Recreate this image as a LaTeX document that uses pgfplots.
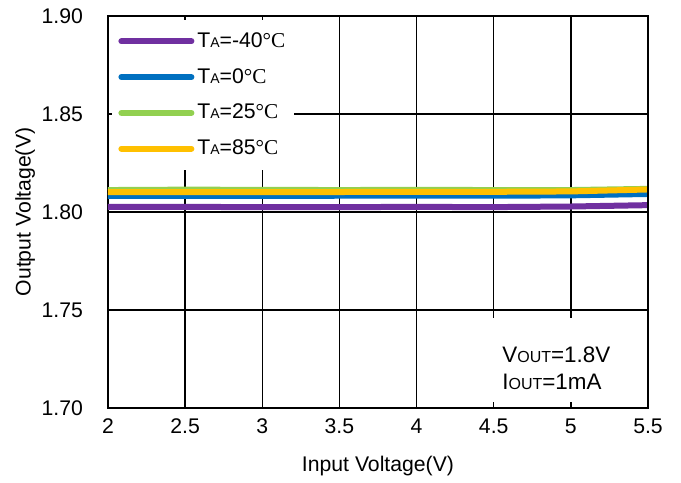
\documentclass[border=0pt]{standalone}
\usepackage{pgfplots}
\pgfplotsset{compat=1.18}
\usepackage{fontspec}
\setmainfont{Liberation Sans}
\newfontfamily\serifdeg{Liberation Serif}
\definecolor{cpurple}{RGB}{112,48,160}
\definecolor{cblue}{RGB}{0,112,192}
\definecolor{cgreen}{RGB}{146,208,80}
\definecolor{corange}{RGB}{255,192,0}
\newcommand{\degC}{{\serifdeg °C}}
\begin{document}
\begin{tikzpicture}
\begin{axis}[
  name=ax,
  scale only axis,
  width=270pt, height=196pt,
  xmin=2, xmax=5.5, ymin=1.70, ymax=1.90,
  xtick={2,2.5,3,3.5,4,4.5,5,5.5},
  ytick={1.70,1.75,1.80,1.85,1.90},
  yticklabel style={/pgf/number format/fixed,/pgf/number format/fixed zerofill,/pgf/number format/precision=2, xshift=-9pt},
  /pgf/number format/assume math mode=true,
  ticklabel style={font=\fontsize{10.6}{12}\selectfont},
  xticklabel style={yshift=-2pt},
  major tick length=0pt,
  grid=major,
  major grid style={black, line width=0.65pt},
  axis line style={black, line width=1.4pt},
  xlabel={Input Voltage(V)},
  ylabel={Output Voltage(V)},
  label style={font=\fontsize{10.6}{12}\selectfont},
  xlabel style={yshift=-4pt},
  ylabel style={yshift=-3.5pt},
  legend cell align=left,
  legend style={at={(rel axis cs:0,1)}, anchor=north west, draw=none, fill=white,
    xshift=2pt, yshift=-2pt, inner xsep=3pt, inner ysep=4pt,
    row sep=5.0pt, font=\fontsize{10.6}{12}\selectfont,
    nodes={inner xsep=1.5pt}},
  legend image code/.code={\draw[#1, line cap=round] (0pt,0pt) -- (35pt,0pt);},
  every axis plot/.append style={line width=3pt},
]
\addplot[cpurple] coordinates {(2,1.8026) (2.5,1.8026) (3,1.8025) (3.5,1.8025) (4,1.8026) (4.5,1.8025) (5,1.8028) (5.5,1.8035)};
\addlegendentry{T{\scriptsize A}=-40\degC}
\addplot[cblue] coordinates {(2,1.8082) (2.5,1.8082) (3,1.8082) (3.5,1.8083) (4,1.8084) (4.5,1.8083) (5,1.8085) (5.5,1.8092)};
\addlegendentry{T{\scriptsize A}=0\degC}
\addplot[cgreen] coordinates {(2,1.8112) (2.5,1.8114) (3,1.8113) (3.5,1.8112) (4,1.8113) (4.5,1.8112) (5,1.8112) (5.5,1.8118)};
\addlegendentry{T{\scriptsize A}=25\degC}
\addplot[corange] coordinates {(2,1.8102) (2.5,1.8102) (3,1.8102) (3.5,1.8102) (4,1.8103) (4.5,1.8103) (5,1.8105) (5.5,1.8115)};
\addlegendentry{T{\scriptsize A}=85\degC}
\end{axis}
\fill[white] ([xshift=188pt,yshift=3pt]ax.south west) rectangle ([xshift=268.5pt,yshift=45pt]ax.south west);
\node[anchor=north west, align=left, font=\fontsize{11.2}{13.5}\selectfont, inner sep=0pt]
  at ([xshift=197pt,yshift=31pt]ax.south west)
  {V{\footnotesize OUT}=1.8V\\I{\footnotesize OUT}=1mA};
\draw[black, line width=1.4pt] (ax.south east) -- (ax.north east);
\draw[black, line width=1.4pt] (ax.south west) -- (ax.south east);
\path ([xshift=-54pt,yshift=-34pt]ax.south west) rectangle ++(340.5pt,238pt);
\end{tikzpicture}
\end{document}
